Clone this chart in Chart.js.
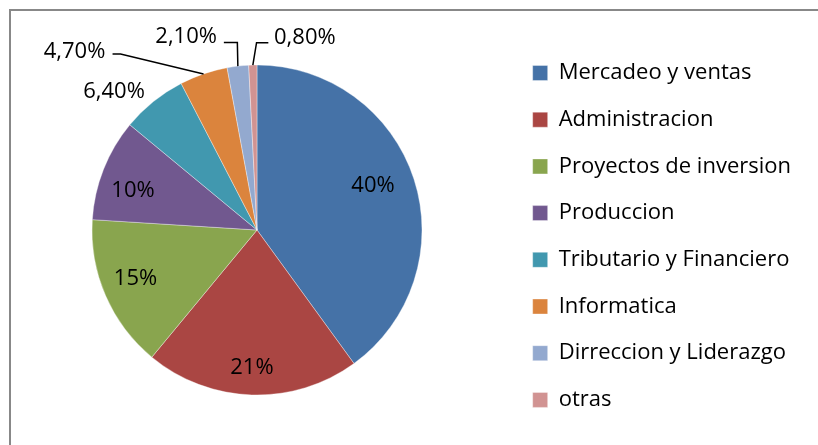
<!DOCTYPE html>
<html lang="es">
<head>
    <meta charset="UTF-8">
    <title>Areas de capacitacion</title>
    <script src="https://cdn.jsdelivr.net/npm/chart.js"></script>
    <style>
        body { margin: 0; background: #fff; }
    </style>
</head>
<body>
    <canvas id="pieChart" width="818" height="445"></canvas>

    <script>
        // Datos del grafico
        const categories = ['Mercadeo y ventas', 'Administracion', 'Proyectos de inversion', 'Produccion',
            'Tributario y Financiero', 'Informatica', 'Dirreccion y Liderazgo', 'otras'];
        const values = [40, 21, 15, 10, 6.4, 4.7, 2.1, 0.8];

        const colors = ['#4572A7', '#AA4643', '#89A54E', '#71588F', '#4198AF', '#DB843D', '#93A9CF', '#D19392'];

        // Ajuste fino de las etiquetas dentro del pastel
        const insideNudge = { 0: [-6.4, -4.2], 1: [-1, 9.1], 2: [-3.4, -2.8], 3: [-4.3, 8.4] };

        // Etiquetas fuera del pastel (desplazamientos desde el borde de la porcion)
        const outsideLabels = {
            4: { label: [-39.4, -10.1] },
            5: { label: [-129, -22.6], line: [[-83, -20], [-91, -20]] },
            6: { label: [-51.7, -28.9], line: [[-0.5, -23.5], [-14, -23.5]] },
            7: { label: [52, -27.7], line: [[3.7, -22.3], [15.5, -22.3]] }
        };

        function formatPct(v) {
            return Number.isInteger(v) ? v + '%' : v.toFixed(2).replace('.', ',') + '%';
        }

        // Marco gris alrededor del grafico
        const framePlugin = {
            id: 'frame',
            beforeDraw(chart) {
                const ctx = chart.ctx;
                ctx.save();
                ctx.fillStyle = '#fff';
                ctx.fillRect(0, 0, chart.width, chart.height);
                ctx.strokeStyle = '#888';
                ctx.lineWidth = 2;
                ctx.strokeRect(10, 10, chart.width + 20, chart.height + 20);
                ctx.restore();
            }
        };

        // Etiquetas de porcentaje
        const labelPlugin = {
            id: 'pctLabels',
            afterDatasetsDraw(chart) {
                const ctx = chart.ctx;
                const meta = chart.getDatasetMeta(0);
                ctx.save();
                ctx.font = '22px "Open Sans"';
                ctx.fillStyle = '#000';
                ctx.strokeStyle = '#000';
                ctx.lineWidth = 1.5;
                ctx.textAlign = 'center';
                ctx.textBaseline = 'middle';
                meta.data.forEach((arc, i) => {
                    const p = arc.getProps(['x', 'y', 'startAngle', 'endAngle', 'outerRadius'], true);
                    const mid = (p.startAngle + p.endAngle) / 2;
                    const txt = formatPct(values[i]);
                    const out = outsideLabels[i];
                    if (!out) {
                        const r = p.outerRadius * 0.78;
                        const n = insideNudge[i] || [0, 0];
                        ctx.fillText(txt, p.x + Math.cos(mid) * r + n[0], p.y + Math.sin(mid) * r + n[1]);
                        return;
                    }
                    const ex = p.x + Math.cos(mid) * p.outerRadius;
                    const ey = p.y + Math.sin(mid) * p.outerRadius;
                    if (out.line) {
                        ctx.beginPath();
                        ctx.moveTo(ex, ey);
                        out.line.forEach(pt => ctx.lineTo(ex + pt[0], ey + pt[1]));
                        ctx.stroke();
                    }
                    ctx.fillText(txt, ex + out.label[0], ey + out.label[1]);
                });
                ctx.restore();
            }
        };

        Chart.defaults.font.family = '"Open Sans", sans-serif';
        Chart.defaults.color = '#000';

        new Chart(document.getElementById('pieChart'), {
            type: 'pie',
            data: {
                labels: categories,
                datasets: [{
                    data: values,
                    backgroundColor: colors,
                    borderColor: 'rgba(255,255,255,0.6)',
                    borderWidth: 0.6,
                    radius: 165
                }]
            },
            options: {
                responsive: false,
                animation: false,
                layout: {
                    padding: { left: 6, right: 17, top: 24.4, bottom: 9.4 }
                },
                plugins: {
                    tooltip: { enabled: false },
                    legend: {
                        position: 'right',
                        align: 'start',
                        // titulo vacio, solo empuja las entradas hacia abajo
                        title: { display: true, text: ' ', padding: 0, font: { size: 10, lineHeight: 1.29 } },
                        labels: {
                            boxWidth: 15,
                            boxHeight: 15,
                            padding: 24.7,
                            font: { size: 22 },
                            color: '#000'
                        }
                    }
                }
            },
            plugins: [framePlugin, labelPlugin]
        });
    </script>
</body>
</html>
